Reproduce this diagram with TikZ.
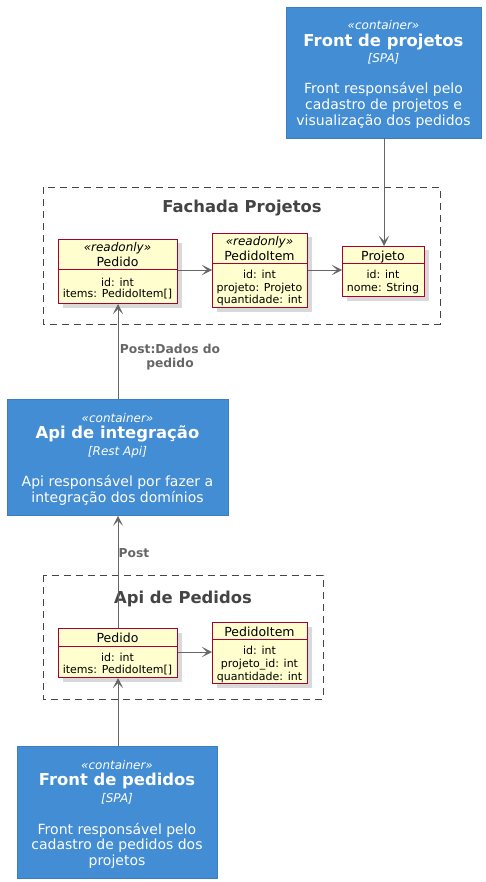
\documentclass[tikz,border=0pt]{standalone}
\usepackage{fontspec}
\setmainfont{DejaVu Sans}
\usetikzlibrary{arrows.meta,shadows}
\definecolor{cfill}{HTML}{438DD5}
\definecolor{cborder}{HTML}{3C7FC0}
\definecolor{clsfill}{HTML}{FEFECE}
\definecolor{clsborder}{HTML}{A80036}
\definecolor{framecol}{HTML}{444444}
\definecolor{arrcol}{HTML}{666666}
\tikzset{
  container/.style={draw=cborder, fill=cfill, line width=0.8pt, inner sep=0pt, anchor=north west},
  clsbox/.style={draw=clsborder, fill=clsfill, line width=1pt, inner sep=0pt, anchor=north west,
     drop shadow={shadow xshift=4pt, shadow yshift=-4pt, opacity=0.25, fill=black!60}},
  frame/.style={draw=framecol, dash pattern=on 7pt off 5pt, line width=0.8pt},
  txt/.style={inner sep=0pt, text height=7.5pt, text depth=2.5pt, anchor=center, yshift=-3.5pt},
  stereo/.style={txt, font=\fontsize{12}{14}\selectfont\itshape, text=white},
  ctitle/.style={txt, font=\fontsize{16.4}{19}\selectfont\bfseries, text=white},
  ctech/.style={txt, font=\fontsize{12}{14}\selectfont\itshape, text=white},
  cdesc/.style={txt, font=\fontsize{14}{16}\selectfont, text=white},
  ftitle/.style={txt, font=\fontsize{16.4}{19}\selectfont\bfseries, text=framecol},
  clsstereo/.style={txt, font=\fontsize{12}{14}\selectfont\itshape},
  clsname/.style={txt, font=\fontsize{12.5}{15}\selectfont},
  field/.style={txt, font=\fontsize{11}{13}\selectfont},
  rel/.style={draw=arrcol, line width=0.9pt, -{Stealth[length=10pt,width=10pt,inset=5pt]}},
  rellabel/.style={txt, font=\fontsize{12.3}{14}\selectfont\bfseries, text=arrcol},
  sep/.style={draw=clsborder, line width=1pt}
}
\begin{document}
\begin{tikzpicture}[x=1pt,y=-1pt]
\useasboundingbox (0,0) rectangle (485,882);

% Front de projetos
\node[container, minimum width=195pt, minimum height=131pt] (fp) at (286,7) {};
\node[stereo] (fp1) at (383.5,24) {«container»};
\node[ctitle] (fp2) at (383.5,41) {Front de projetos};
\node[ctech] (fp3) at (383.5,57) {[SPA]};
\node[cdesc] (fp4) at (383.5,88) {Front responsável pelo};
\node[cdesc] (fp5) at (383.5,104) {cadastro de projetos e};
\node[cdesc] (fp6) at (383.5,120) {visualização dos pedidos};

% Fachada Projetos frame
\draw[frame] (43,187) rectangle (440,324);
\node[ftitle] (fachada) at (242,207) {Fachada Projetos};

% Pedido (fachada)
\node[clsbox, minimum width=119pt, minimum height=64pt] (p1) at (58,239) {};
\draw[sep] (58,270) -- (177,270);
\node[clsstereo] at (117.5,246) {«readonly»};
\node[clsname] at (117.5,261) {Pedido};
\node[field] at (117.5,280) {id: int};
\node[field] at (117.5,292) {items: PedidoItem[]};

% PedidoItem (fachada)
\node[clsbox, minimum width=95pt, minimum height=74pt] (pi1) at (212,233) {};
\draw[sep] (212,264) -- (307,264);
\node[clsstereo] at (259.5,240) {«readonly»};
\node[clsname] at (259.5,255) {PedidoItem};
\node[field] at (259.5,273) {id: int};
\node[field] at (259.5,285) {projeto: Projeto};
\node[field] at (259.5,297) {quantidade: int};

% Projeto
\node[clsbox, minimum width=82pt, minimum height=50pt] (proj) at (342,246) {};
\draw[sep] (342,264) -- (424,264);
\node[clsname] at (383,254.5) {Projeto};
\node[field] at (383,272.5) {id: int};
\node[field] at (383,285) {nome: String};

% Api de integração
\node[container, minimum width=221pt, minimum height=116pt] (api) at (7,399) {};
\node[stereo] at (117.5,416) {«container»};
\node[ctitle] at (117.5,432) {Api de integração};
\node[ctech] at (117.5,449) {[Rest Api]};
\node[cdesc] at (117.5,480) {Api responsável por fazer a};
\node[cdesc] at (117.5,496) {integração dos domínios};

% Api de Pedidos frame
\draw[frame] (43,575) rectangle (323,699);
\node[ftitle] (apiped) at (183,597) {Api de Pedidos};

% Pedido (api de pedidos)
\node[clsbox, minimum width=119pt, minimum height=49pt] (p2) at (58,628) {};
\draw[sep] (58,646) -- (177,646);
\node[clsname] at (117.5,636) {Pedido};
\node[field] at (117.5,655) {id: int};
\node[field] at (117.5,667) {items: PedidoItem[]};

% PedidoItem (api de pedidos)
\node[clsbox, minimum width=95pt, minimum height=61pt] (pi2) at (212,622) {};
\draw[sep] (212,639) -- (307,639);
\node[clsname] at (259.5,630) {PedidoItem};
\node[field] at (259.5,648) {id: int};
\node[field] at (259.5,661) {projeto\_id: int};
\node[field] at (259.5,674) {quantidade: int};

% Front de pedidos
\node[container, minimum width=200pt, minimum height=132pt] (fped) at (17,746) {};
\node[stereo] at (117,763) {«container»};
\node[ctitle] at (117,779) {Front de pedidos};
\node[ctech] at (117,796) {[SPA]};
\node[cdesc] at (117,828) {Front responsável pelo};
\node[cdesc] at (117,843) {cadastro de pedidos dos};
\node[cdesc] at (117,859) {projetos};

% Relations
\coordinate (fpb) at (384,138);
\draw[rel] (fpb) -- (proj.north -| fpb);
\draw[rel] (p1.east |- 0,270) -- (pi1.west |- 0,270);
\draw[rel] (pi1.east |- 0,270) -- (proj.west |- 0,270);
\coordinate (apit) at (118,399);
\draw[rel] (apit) -- (p1.south -| apit);
\node[rellabel] at (170,347) {Post:Dados do};
\node[rellabel] at (170,361) {pedido};
\coordinate (p2t) at (118,628);
\draw[rel] (p2t) -- (api.south -| p2t);
\node[rellabel] at (134,551) {Post};
\draw[rel] (p2.east |- 0,652) -- (pi2.west |- 0,652);
\coordinate (fpedt) at (118,746);
\draw[rel] (fpedt) -- (p2.south -| fpedt);
\end{tikzpicture}
\end{document}
